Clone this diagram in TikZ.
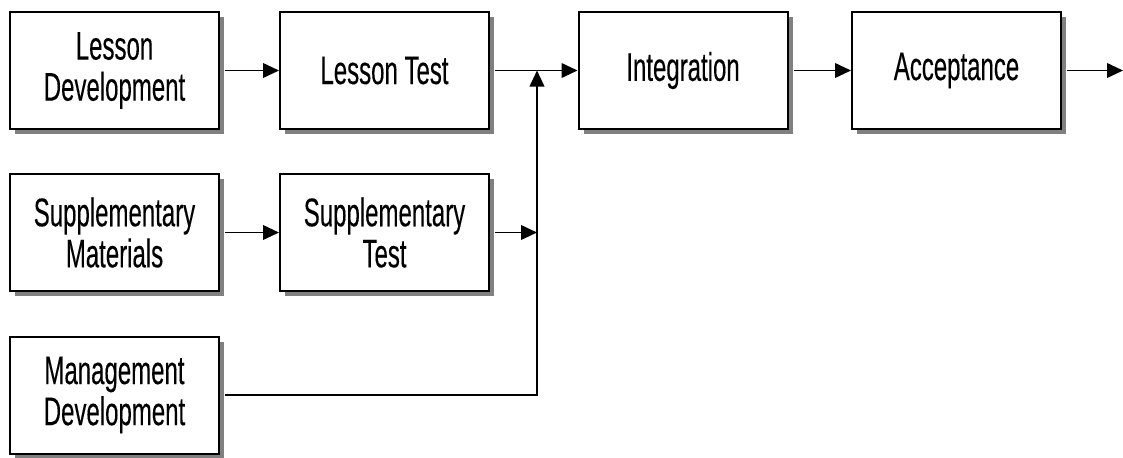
\documentclass[tikz,border=0pt]{standalone}
\usepackage{fontspec}
\setmainfont{Liberation Sans}[FakeStretch=0.6,FakeBold=0.2]
\usetikzlibrary{arrows.meta,shadows}
\begin{document}
\begin{tikzpicture}[x=0.75pt,y=-0.75pt,
  procbox/.style={draw=black, line width=1.5pt, fill=white, rectangle,
    minimum width=156.75pt, minimum height=87.75pt, inner sep=0pt,
    align=center, font=\fontsize{30}{30.8}\selectfont,
    drop shadow={shadow xshift=3.75pt, shadow yshift=-3.75pt, fill=black!50, opacity=1}},
  flow/.style={line width=1.3pt, -{Triangle[length=12pt,width=11pt]}},
  plain/.style={line width=1.3pt}]
\useasboundingbox (0,0) rectangle (1123,457);
\node[procbox] (LD) at (114.5,70.5) {Lesson\\Development};
\node[procbox] (LT) at (384.5,70.5) {Lesson Test};
\node[procbox] (IN) at (683,70.5) {Integration};
\node[procbox] (AC) at (956.5,70.5) {Acceptance};
\node[procbox] (SM) at (114.5,232.5) {Supplementary\\Materials};
\node[procbox] (ST) at (384.5,232.5) {Supplementary\\Test};
\node[procbox] (MD) at (114.5,395) {Management\\Development};
\coordinate (j1) at (537,70.5);
\coordinate (j2) at (537,232.5);
\coordinate (j3) at (537,395);
\coordinate (out) at (1123,70.5);
\draw[flow] ([xshift=3.75pt]LD.east) -- (LT.west);
\draw[flow] ([xshift=3.75pt]LT.east) -- (IN.west);
\draw[flow] ([xshift=3.75pt]SM.east) -- (ST.west);
\draw[flow] ([xshift=3.75pt]ST.east) -- (j2);
\draw[flow] ([xshift=3.75pt]MD.east) -- (j3) -- (j1);
\draw[flow] ([xshift=3.75pt]IN.east) -- (AC.west);
\draw[flow] ([xshift=3.75pt]AC.east) -- (out);
\end{tikzpicture}
\end{document}
